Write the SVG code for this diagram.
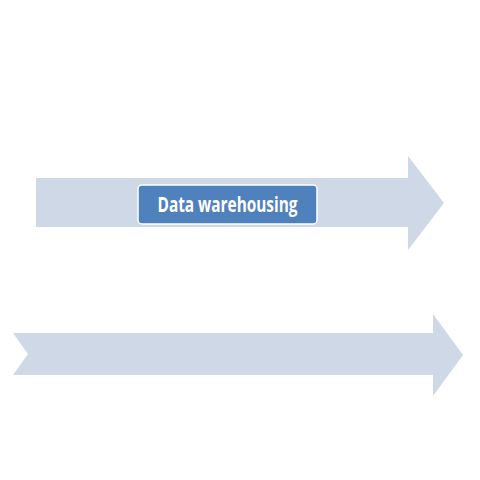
<svg xmlns="http://www.w3.org/2000/svg" width="480" height="480" viewBox="0 0 480 480">
<style>
.arrow{fill:#cfd8e6;}
.box{fill:#4f81bd;stroke:#ffffff;stroke-width:1.5;}
.lbl{font-family:"Open Sans","Noto Sans",sans-serif;font-weight:bold;font-size:21px;fill:#ffffff;}
</style>
<rect width="480" height="480" fill="#ffffff"/>
<g id="connectors">
<polygon id="arrow-top" class="arrow" points="36,178 408,178 408,156 444,203 408,250 408,227 36,227"/>
<polygon id="arrow-bottom" class="arrow" points="13,333 433,333 433,314 463,355 433,396 433,375 13,375 28,354"/>
</g>
<g id="node-data-warehousing">
<rect class="box" x="138" y="185" width="179" height="39" rx="4" ry="4"/>
<text class="lbl" x="227.5" y="211.5" text-anchor="middle" textLength="140" lengthAdjust="spacingAndGlyphs">Data warehousing</text>
</g>
</svg>
